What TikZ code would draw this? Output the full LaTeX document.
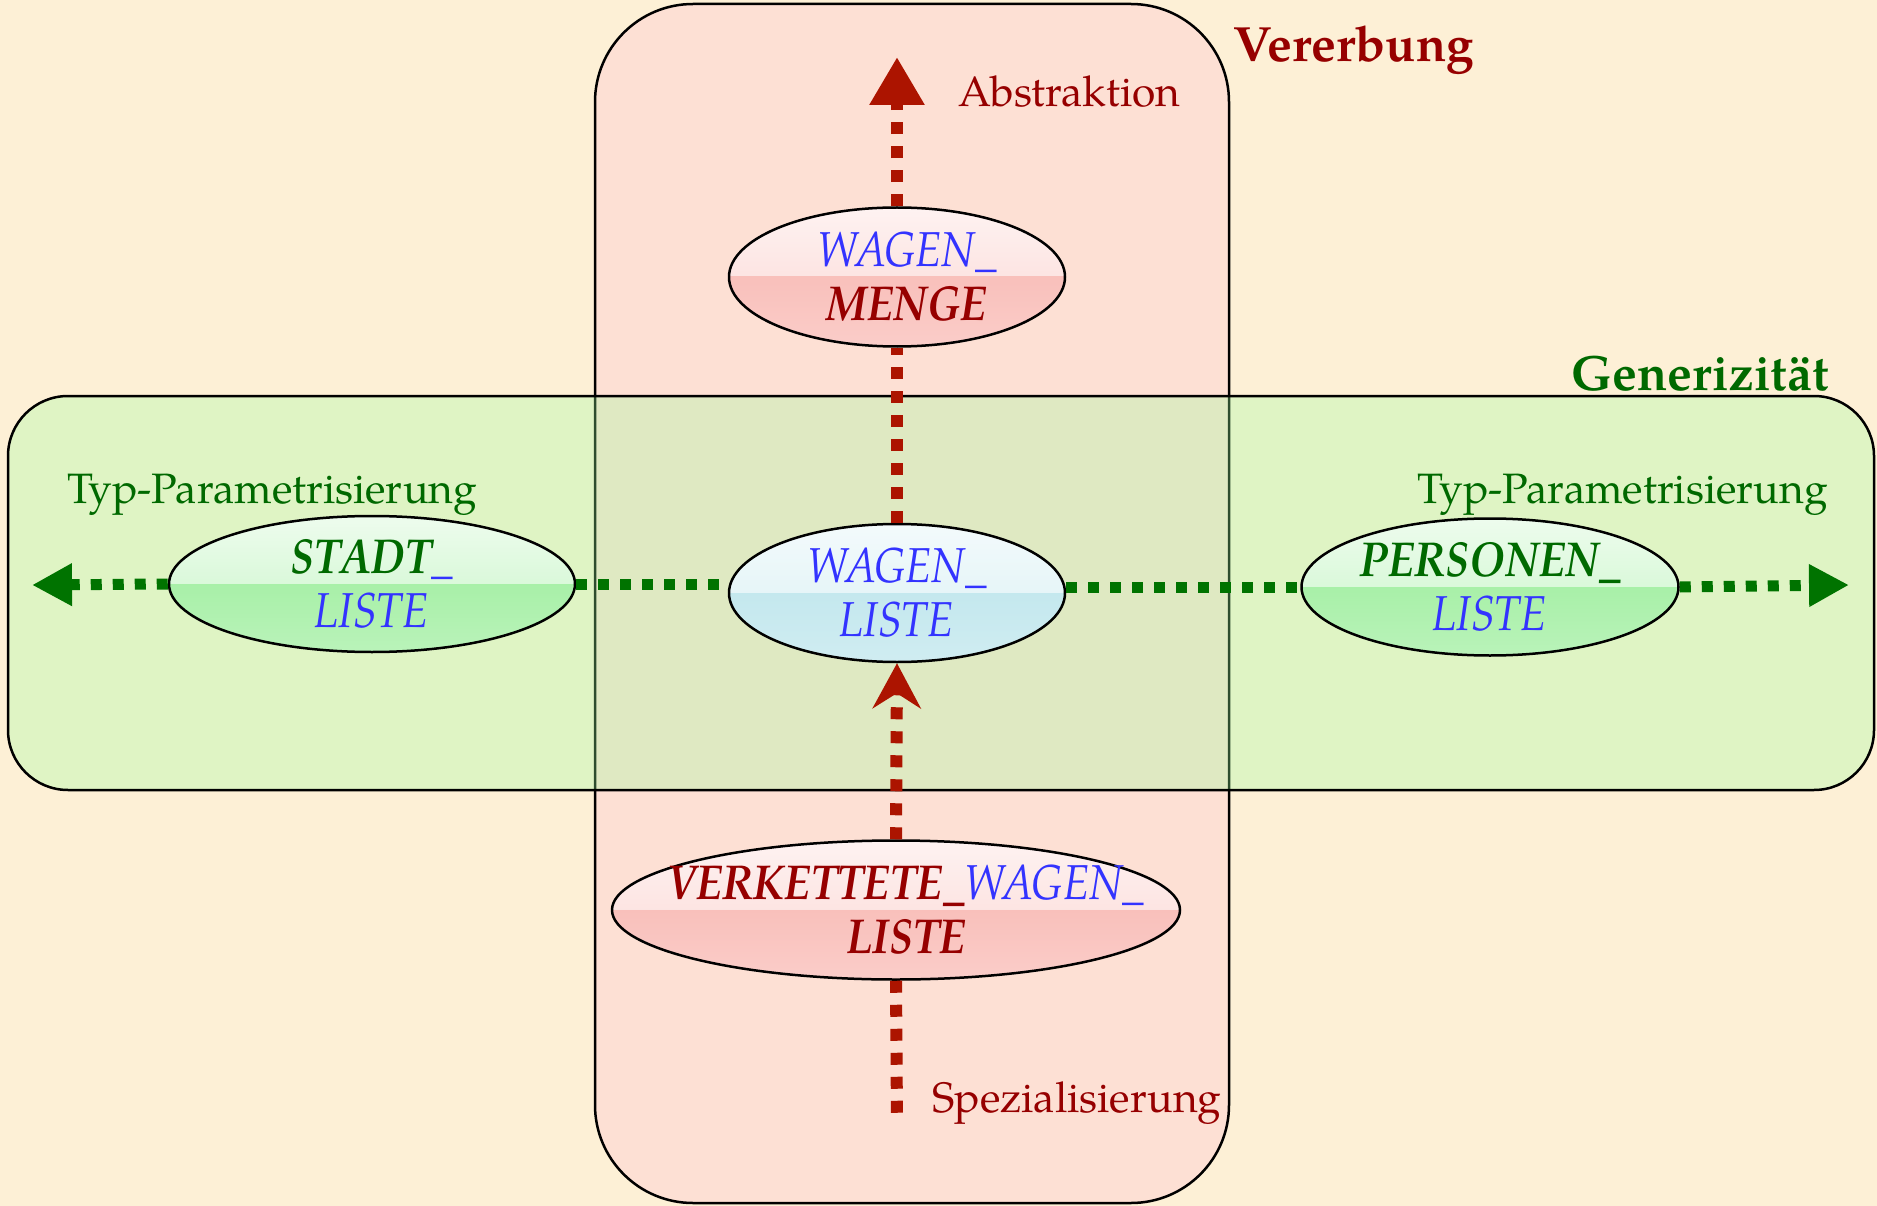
\documentclass[tikz,border=0pt]{standalone}
\usepackage{fontspec}
\setmainfont{TeX Gyre Pagella}
\newfontfamily\classfont[FakeStretch=0.88]{TeX Gyre Pagella}
\usetikzlibrary{arrows.meta,shapes.geometric}

\definecolor{paper}{RGB}{253,240,214}
\definecolor{inhfill}{RGB}{253,224,212}
\definecolor{genfill}{RGB}{155,255,155}
\definecolor{dred}{RGB}{150,0,0}
\definecolor{dgreen}{RGB}{0,105,0}
\definecolor{tblue}{RGB}{51,51,255}
\definecolor{arrred}{RGB}{172,20,0}
\definecolor{arrgreen}{RGB}{0,115,0}
\definecolor{pinkbase}{RGB}{249,192,187}
\definecolor{cyanbase}{RGB}{196,232,238}
\definecolor{greenbase}{RGB}{168,240,168}

\tikzset{
  blob/.style={ellipse, draw=black, line width=2.5pt, inner xsep=-60pt, inner ysep=-10pt,
    align=center, font=\classfont\fontsize{49}{54}\selectfont},
  glossy/.style={fill=#1, path picture={
      \shade[top color=white!80!#1, bottom color=white!35!#1]
        (path picture bounding box.north west) rectangle (path picture bounding box.east);
      \shade[top color=#1, bottom color=white!20!#1]
        (path picture bounding box.west) rectangle (path picture bounding box.south east);}},
  inhline/.style={draw=arrred, line width=12pt, dash pattern=on 12pt off 12pt},
  genline/.style={draw=arrgreen, line width=11pt, dash pattern=on 11pt off 11pt},
  lbl/.style={inner sep=0pt, font=\fontsize{42.5}{42.5}\selectfont},
  title/.style={inner sep=0pt, font=\fontsize{49.5}{49.5}\selectfont\bfseries},
  redtip/.tip={Triangle[length=48pt 0 0, width=52pt 0 0]},
  notchtip/.tip={Stealth[length=45pt 0 0, width=48pt 0 0, inset=15pt 0 0]},
  greentip/.tip={Triangle[length=40pt 0 0, width=40pt 0 0]},
}

\begin{document}
\begin{tikzpicture}[x=1pt,y=-1pt]
  \useasboundingbox (0,0) rectangle (1877,1206);
  \fill[paper] (0,0) rectangle (1877,1206);

  % the two overlapping regions
  \draw[fill=inhfill, line width=2.5pt, rounded corners=98pt] (595,4) rectangle (1229,1203);
  \fill[genfill, fill opacity=0.3, rounded corners=60pt] (8,396) rectangle (1874,790);
  \draw[line width=2.5pt, rounded corners=60pt] (8,396) rectangle (1874,790);

  % region titles and axis labels
  \node[title, text=dred, anchor=base west] (tinh) at (1233,62) {Vererbung};
  \node[title, text=dgreen, anchor=base east] (tgen) at (1829,390) {Generizität};
  \node[lbl, text=dred, anchor=base west] (labs) at (958,107) {Abstraktion};
  \node[lbl, text=dred, anchor=base west] (lspec) at (932,1112) {Spezialisierung};
  \node[lbl, text=dgreen, anchor=base west] (ltypl) at (67,503) {Typ-Parametrisierung};
  \node[lbl, text=dgreen, anchor=base east] (ltypr) at (1828,503) {Typ-Parametrisierung};

  % classes
  \node[blob, glossy=pinkbase, minimum width=336pt, minimum height=139pt] (menge) at (897,277)
    {\hspace*{20pt}{\itshape\color{tblue}WAGEN\_}\\\hspace*{20pt}{\bfseries\itshape\color{dred}MENGE}};
  \node[blob, glossy=cyanbase, minimum width=336pt, minimum height=138pt] (liste) at (897,593)
    {{\itshape\color{tblue}WAGEN\_}\\{\itshape\color{tblue}LISTE}};
  \node[blob, glossy=greenbase, minimum width=406pt, minimum height=136pt] (stadt) at (372,584)
    {{\bfseries\itshape\color{dgreen}STADT}{\itshape\color{tblue}\_}\\{\itshape\color{tblue}LISTE}};
  \node[blob, glossy=greenbase, minimum width=377pt, minimum height=137pt] (personen) at (1490,587)
    {{\bfseries\itshape\color{dgreen}PERSONEN\_}\\{\itshape\color{tblue}LISTE}};
  \node[blob, glossy=pinkbase, minimum width=568pt, minimum height=139pt] (verk) at (896,910)
    {\hspace*{20pt}{\bfseries\itshape\color{dred}VERKETTETE\_}{\itshape\color{tblue}WAGEN\_}\\\hspace*{20pt}{\bfseries\itshape\color{dred}LISTE}};

  % free ends of the axes
  \coordinate (top) at (897,57);
  \coordinate (bottom) at (897,1123);
  \coordinate (left) at (32,585);
  \coordinate (right) at (1849,585);

  % inheritance axis
  \draw[inhline] (verk.south) -- (bottom);
  \draw[inhline, -notchtip] (verk.north) -- (liste.south);
  \draw[inhline] (liste.north) -- (menge.south);
  \draw[inhline, -redtip] (menge.north) -- (top);

  % genericity axis
  \draw[genline] (stadt.east) -- (stadt.east -| liste.west);
  \draw[genline, -greentip] (stadt.west) -- (left);
  \draw[genline] (personen.west -| liste.east) -- (personen.west);
  \draw[genline, -greentip] (personen.east) -- (right);
\end{tikzpicture}
\end{document}
